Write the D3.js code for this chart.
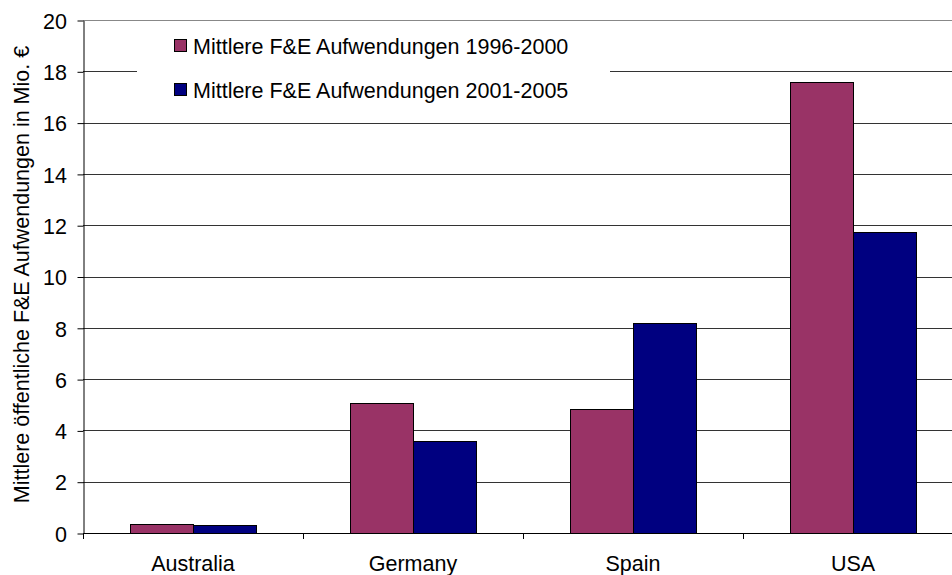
<!DOCTYPE html>
<html><head><meta charset="utf-8">
<script src="https://cdn.jsdelivr.net/npm/d3@7"></script>
<style>body{margin:0;background:#fff}svg{display:block}text{font-family:"Liberation Sans",Arial,sans-serif;fill:#000}</style>
</head><body><svg id="c" width="952" height="575"></svg>
<script>
const categories = ["Australia","Germany","Spain","USA"];
const seriesNames = ["Mittlere F&E Aufwendungen 1996-2000","Mittlere F&E Aufwendungen 2001-2005"];
const values1996 = [0.34, 5.08, 4.82, 17.6];
const values2001 = [0.30, 3.60, 8.20, 11.75];
const yTicks = [0,2,4,6,8,10,12,14,16,18,20];
const yTitle = "Mittlere öffentliche F&E Aufwendungen in Mio. €";
const colors = ["#993366","#000080"];

const FS = "21.5px";
const svg = d3.select("#c");
const L = 83, R = 963, T = 20, B = 533;
const x = d3.scaleBand().domain(categories).range([L, R]).paddingInner(0).paddingOuter(0);
const y = d3.scaleLinear().domain([0,20]).range([B, T]);
const inner = d3.scaleBand().domain([0,1]).range([47, 220-47]);

// gridlines
svg.append("g").selectAll("line").data(yTicks.filter(d=>d>0)).join("line")
  .attr("x1", L).attr("x2", 952)
  .attr("y1", d=>Math.round(y(d))+0.5).attr("y2", d=>Math.round(y(d))+0.5)
  .attr("stroke", d=> d===20 ? "#888" : "#333").attr("stroke-width",1);

// bars
const series = [values1996, values2001];
series.forEach((vals, si) => {
  svg.append("g").selectAll("rect").data(vals).join("rect")
    .attr("x", (d,i)=> x(categories[i]) + inner(si) + 0.5)
    .attr("width", inner.bandwidth())
    .attr("y", d=> Math.round(y(d))+0.5)
    .attr("height", d=> Math.round(B) - Math.round(y(d)))
    .attr("fill", colors[si]).attr("stroke","#000").attr("stroke-width",1);
});

// y axis
const yAxis = d3.axisLeft(y).tickValues(yTicks).tickSize(6).tickPadding(10).tickSizeOuter(0);
const gy = svg.append("g").attr("transform",`translate(${L+0.5},0.5)`).call(yAxis);
gy.select(".domain").attr("stroke","#000");
gy.selectAll(".tick line").attr("stroke","#000");
gy.selectAll(".tick text").attr("font-size",FS).attr("font-family","Liberation Sans, Arial, sans-serif")
  .attr("fill","#000").attr("x",-16.5).attr("dy","0.36em");

// x axis baseline and category ticks
svg.append("line").attr("x1",L).attr("x2",952).attr("y1",B+0.5).attr("y2",B+0.5).attr("stroke","#000");
svg.append("line").attr("x1",L+0.5).attr("x2",L+0.5).attr("y1",B).attr("y2",B+6).attr("stroke","#000");
svg.append("g").selectAll("line").data(categories.slice(1)).join("line")
  .attr("x1", d=>Math.round(x(d))+0.5).attr("x2", d=>Math.round(x(d))+0.5)
  .attr("y1", B).attr("y2", B+6).attr("stroke","#000");
svg.append("g").selectAll("text").data(categories).join("text")
  .attr("x", d=> x(d)+x.bandwidth()/2).attr("y", 571)
  .attr("text-anchor","middle").attr("font-size",FS).text(d=>d);

// y title
svg.append("text").attr("transform",`translate(29,${(T+B)/2 - 2}) rotate(-90)`)
  .attr("text-anchor","middle").attr("font-size",FS).text(yTitle);

// legend
svg.append("rect").attr("x",137).attr("y",28).attr("width",473).attr("height",84).attr("fill","#fff");
const lg = svg.append("g").selectAll("g").data(seriesNames).join("g")
  .attr("transform",(d,i)=>`translate(174,${39+i*44})`);
lg.append("rect").attr("x",0.5).attr("y",0.5).attr("width",12).attr("height",12)
  .attr("fill",(d,i)=>colors[i]).attr("stroke","#000");
lg.append("text").attr("x",19).attr("y",15).attr("font-size",FS).text(d=>d);
</script></body></html>
